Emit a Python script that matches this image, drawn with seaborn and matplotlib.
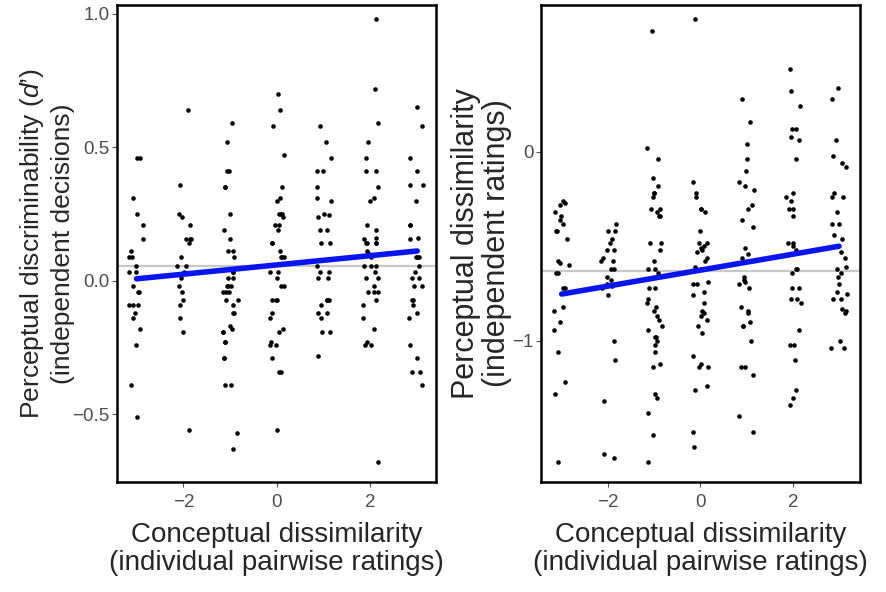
import numpy as np
import pandas as pd
import matplotlib
matplotlib.use("Agg")
import matplotlib.pyplot as plt
import seaborn as sns

# conceptual dissimilarity levels
levels = [-3, -2, -1, 0, 1, 2, 3]

# left panel: d' (independent decisions), one list per level
dprime_m3 = [0.46, 0.46, 0.31, 0.25, 0.21, 0.155, 0.11, 0.09, 0.09, 0.056, 0.034, 0.034, 0.01,
             -0.02, -0.04, -0.04, -0.09, -0.09, -0.09, -0.12, -0.14, -0.18, -0.24, -0.39, -0.51]
dprime_m2 = [0.64, 0.36, 0.25, 0.24, 0.21, 0.155, 0.155, 0.155, 0.14, 0.09, 0.056, 0.056, 0.034,
             0.01, -0.02, -0.04, -0.07, -0.09, -0.14, -0.19, -0.56]
dprime_m1 = [0.59, 0.52, 0.41, 0.41, 0.35, 0.35, 0.25, 0.19, 0.155, 0.11, 0.11, 0.09, 0.034, 0.034,
             0.01, 0.01, -0.02, -0.02, -0.02, -0.04, -0.04, -0.04, -0.07, -0.07, -0.09, -0.12, -0.12,
             -0.17, -0.18, -0.19, -0.19, -0.23, -0.23, -0.29, -0.29, -0.39, -0.39, -0.57, -0.63]
dprime_0 = [0.70, 0.64, 0.58, 0.47, 0.35, 0.31, 0.30, 0.25, 0.25, 0.25, 0.24, 0.21, 0.21, 0.19, 0.14,
            0.14, 0.11, 0.09, 0.09, 0.09, 0.034, 0.034, 0.01, -0.02, -0.02, -0.07, -0.07, -0.07,
            -0.12, -0.14, -0.18, -0.19, -0.23, -0.24, -0.24, -0.29, -0.34, -0.34, -0.56]
dprime_p1 = [0.58, 0.52, 0.46, 0.41, 0.41, 0.35, 0.31, 0.30, 0.25, 0.245, 0.24, 0.19, 0.19, 0.14,
             0.14, 0.056, 0.034, 0.034, 0.01, 0.01, -0.07, -0.07, -0.07, -0.09, -0.12, -0.12, -0.14,
             -0.19, -0.19, -0.28]
dprime_p2 = [0.98, 0.72, 0.59, 0.52, 0.46, 0.41, 0.41, 0.35, 0.31, 0.30, 0.21, 0.19, 0.16, 0.155,
             0.14, 0.14, 0.14, 0.14, 0.11, 0.10, 0.09, 0.056, 0.056, 0.056, 0.034, 0.01, 0.01, -0.02,
             -0.04, -0.04, -0.04, -0.07, -0.09, -0.14, -0.18, -0.23, -0.24, -0.24, -0.68]
dprime_p3 = [0.65, 0.58, 0.46, 0.41, 0.36, 0.36, 0.30, 0.21, 0.21, 0.16, 0.155, 0.11, 0.09, 0.09,
             0.09, 0.056, 0.034, 0.01, 0.01, -0.02, -0.02, -0.07, -0.07, -0.09, -0.12, -0.14, -0.24,
             -0.29, -0.34, -0.34, -0.39]

# right panel: perceptual dissimilarity (independent ratings)
rating_m3 = [-0.26, -0.27, -0.28, -0.32, -0.34, -0.36, -0.38, -0.42, -0.42, -0.46, -0.58, -0.59,
             -0.60, -0.64, -0.64, -0.72, -0.72, -0.82, -0.84, -0.90, -0.94, -1.06, -1.22, -1.28, -1.64]
rating_m2 = [-0.38, -0.42, -0.42, -0.46, -0.48, -0.52, -0.52, -0.56, -0.58, -0.58, -0.62, -0.62,
             -0.66, -0.68, -0.70, -0.71, -0.72, -0.76, -1.00, -1.10, -1.32, -1.60, -1.62]
rating_m1 = [0.64, 0.02, -0.04, -0.14, -0.18, -0.22, -0.22, -0.24, -0.30, -0.30, -0.32, -0.34, -0.34,
             -0.48, -0.48, -0.52, -0.58, -0.62, -0.62, -0.64, -0.72, -0.72, -0.78, -0.80, -0.82,
             -0.84, -0.87, -0.89, -0.92, -0.94, -0.98, -0.98, -1.00, -1.02, -1.06, -1.12, -1.14,
             -1.28, -1.30, -1.38, -1.50, -1.64]
rating_0 = [0.70, -0.16, -0.22, -0.24, -0.30, -0.30, -0.32, -0.42, -0.48, -0.48, -0.50, -0.51,
            -0.52, -0.53, -0.56, -0.58, -0.61, -0.62, -0.69, -0.70, -0.70, -0.74, -0.76, -0.80,
            -0.84, -0.85, -0.87, -0.89, -0.92, -0.96, -1.08, -1.12, -1.14, -1.14, -1.24, -1.26,
            -1.48, -1.56]
rating_p1 = [0.28, 0.16, 0.04, -0.04, -0.10, -0.16, -0.18, -0.20, -0.28, -0.30, -0.36, -0.40, -0.51,
             -0.54, -0.56, -0.66, -0.68, -0.69, -0.70, -0.72, -0.82, -0.84, -0.85, -0.90, -0.92,
             -0.92, -1.00, -1.14, -1.14, -1.18, -1.40, -1.48]
rating_p2 = [0.44, 0.32, 0.24, 0.12, 0.12, 0.08, 0.06, -0.04, -0.22, -0.24, -0.26, -0.30, -0.30,
             -0.34, -0.48, -0.48, -0.50, -0.52, -0.62, -0.62, -0.64, -0.72, -0.72, -0.78, -0.78,
             -0.80, -0.94, -1.02, -1.02, -1.10, -1.26, -1.30, -1.34]
rating_p3 = [0.34, 0.28, 0.06, -0.02, -0.06, -0.08, -0.22, -0.24, -0.24, -0.32, -0.38, -0.38, -0.44,
             -0.46, -0.53, -0.56, -0.61, -0.62, -0.64, -0.66, -0.70, -0.74, -0.75, -0.78, -0.78,
             -0.83, -0.84, -0.85, -1.00, -1.04, -1.04]

# grey reference lines (grand means)
dprime_ref = 0.056
rating_ref = -0.63


def long_df(cols):
    rows = []
    for lev, vals in zip(levels, cols):
        for v in vals:
            rows.append((lev, v))
    return pd.DataFrame(rows, columns=["concept", "value"])


df_left = long_df([dprime_m3, dprime_m2, dprime_m1, dprime_0, dprime_p1, dprime_p2, dprime_p3])
df_right = long_df([rating_m3, rating_m2, rating_m1, rating_0, rating_p1, rating_p2, rating_p3])

sns.set_style("white")
plt.rcParams["font.family"] = ["Liberation Sans", "DejaVu Sans"]
plt.rcParams["mathtext.fontset"] = "custom"
plt.rcParams["mathtext.it"] = "Liberation Sans:italic"
plt.rcParams["mathtext.rm"] = "Liberation Sans"

np.random.seed(3)
fig = plt.figure(figsize=(8.86, 5.92), dpi=100)
ax1 = fig.add_axes([0.132, 0.186, 0.360, 0.806])
ax2 = fig.add_axes([0.611, 0.186, 0.360, 0.806])

xlabel = "Conceptual dissimilarity\n(individual pairwise ratings)"

for ax, df, ref in [(ax1, df_left, dprime_ref), (ax2, df_right, rating_ref)]:
    ax.axhline(ref, color="#c8c8c8", lw=1.6, zorder=1)
    sns.stripplot(data=df, x="concept", y="value", native_scale=True, jitter=0.17,
                  color="black", size=3.3, linewidth=0, ax=ax, zorder=2)
    sns.regplot(data=df, x="concept", y="value", scatter=False, ci=None, ax=ax,
                line_kws={"color": "#0a14f0", "lw": 4, "zorder": 3})
    ax.set_xlabel(xlabel, fontsize=20, labelpad=8, linespacing=1.1)
    ax.set_xticks([-2, 0, 2])
    ax.set_xticklabels(["\u22122", "0", "2"])
    for s in ax.spines.values():
        s.set_color("black")
        s.set_linewidth(1.8)
    ax.tick_params(axis="both", direction="out", length=3.5, width=0.8, color="#4d4d4d",
                   labelcolor="#4d4d4d", labelsize=13.5, pad=2,
                   bottom=True, left=True)
    ax.tick_params(axis="x", pad=5)

ax1.set_xlim(-3.42, 3.40)
ax1.set_ylim(-0.753, 1.034)
ax1.set_yticks([-0.5, 0.0, 0.5, 1.0])
ax1.set_yticklabels(["\u22120.5", "0.0", "0.5", "1.0"])
ax1.set_ylabel("Perceptual discriminability ($\\mathit{d}$\u2019)\n(independent decisions)",
               fontsize=19, labelpad=-2, linespacing=1.25)

ax2.set_xlim(-3.44, 3.46)
ax2.set_ylim(-1.746, 0.778)
ax2.set_yticks([-1, 0])
ax2.set_yticklabels(["\u22121", "0"])
ax2.set_ylabel("Perceptual dissimilarity\n(independent ratings)", fontsize=22, labelpad=0,
               linespacing=1.05)

fig.savefig("out.png", dpi=100)
